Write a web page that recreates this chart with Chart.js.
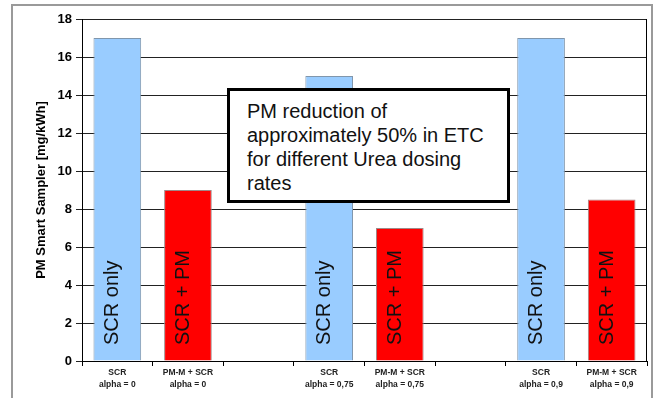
<!DOCTYPE html>
<html><head><meta charset="utf-8">
<script src="https://cdn.jsdelivr.net/npm/chart.js@4"></script>
<style>
html,body{margin:0;padding:0;background:#fff;}
#wrap{position:relative;width:656px;height:398px;overflow:hidden;}
#c{position:absolute;left:0;top:0;}
#frame{position:absolute;left:11px;top:4px;width:642px;height:420px;border:2px solid #9a9a9a;box-sizing:border-box;pointer-events:none;}
#note{position:absolute;left:227px;top:88px;width:283px;height:115px;border:3px solid #000;box-sizing:border-box;background:#fff;
 font-family:"Liberation Sans",Arial,sans-serif;font-size:20px;line-height:24px;padding:8px 0 0 17px;color:#111;white-space:nowrap;}
</style></head>
<body>
<div id="wrap">
<canvas id="c" width="656" height="398"></canvas>
<div id="frame"></div>
<div id="note"></div>
</div>
<script>
const categories = [
  ['SCR','alpha = 0'], ['PM-M + SCR','alpha = 0'], '',
  ['SCR','alpha = 0,75'], ['PM-M + SCR','alpha = 0,75'], '',
  ['SCR','alpha = 0,9'], ['PM-M + SCR','alpha = 0,9']
];
const scrOnly = [17, null, null, 15, null, null, 17, null];
const scrPm   = [null, 9, null, null, 7, null, null, 8.5];
const seriesNames = ['SCR only', 'SCR + PM'];
const yMin = 0, yMax = 18, yStep = 2;
const yTitle = 'PM Smart Sampler [mg/kWh]';
const noteLines = ['PM reduction of', 'approximately 50% in ETC', 'for different Urea dosing', 'rates'];

document.getElementById('note').innerHTML = noteLines.join('<br>');

const FONT = '"Liberation Sans", Arial, sans-serif';

const innerLabels = {
  id: 'innerLabels',
  afterDatasetsDraw(chart) {
    const ctx = chart.ctx;
    const base = chart.scales.y.getPixelForValue(0);
    chart.data.datasets.forEach((ds, i) => {
      const meta = chart.getDatasetMeta(i);
      meta.data.forEach((bar, j) => {
        if (ds.data[j] == null) return;
        ctx.save();
        ctx.translate(bar.x + 1, base - 16);
        ctx.rotate(-Math.PI / 2);
        ctx.font = '20px ' + FONT;
        ctx.fillStyle = '#111';
        ctx.textAlign = 'left';
        ctx.textBaseline = 'alphabetic';
        ctx.fillText(ds.label, 0, 0);
        ctx.restore();
      });
    });
    const a = chart.chartArea;
    ctx.save();
    ctx.strokeStyle = '#000';
    ctx.lineWidth = 1;
    ctx.beginPath();
    ctx.moveTo(Math.round(a.right) - 0.5, a.top);
    ctx.lineTo(Math.round(a.right) - 0.5, a.bottom);
    ctx.stroke();
    ctx.restore();
  }
};

new Chart(document.getElementById('c'), {
  type: 'bar',
  data: {
    labels: categories,
    datasets: [
      { label: seriesNames[0], data: scrOnly, backgroundColor: '#99CCFF', borderColor: '#8096ac', borderWidth: 1 },
      { label: seriesNames[1], data: scrPm, backgroundColor: '#FF0000', borderColor: '#a08888', borderWidth: 1 }
    ]
  },
  options: {
    responsive: false,
    animation: false,
    devicePixelRatio: 1,
    grouped: false,
    categoryPercentage: 1,
    barPercentage: 0.675,
    layout: { padding: { left: 0, top: 19, right: 9, bottom: 0 } },
    plugins: { legend: { display: false }, tooltip: { enabled: false } },
    scales: {
      x: {
        grid: { display: true, drawOnChartArea: false, drawTicks: true, tickLength: 5, color: '#000' },
        border: { display: true, color: '#000', width: 1 },
        ticks: { color: '#222', padding: 1, maxRotation: 0, autoSkip: false,
                 font: { family: FONT, size: 8.5, weight: 'bold', lineHeight: '12px' } },
        afterFit(s) { s.height = 37; }
      },
      y: {
        min: yMin, max: yMax,
        grid: { color: '#222', lineWidth: 1, tickLength: 6, drawTicks: true },
        border: { display: true, color: '#000', width: 1 },
        ticks: { stepSize: yStep, padding: 4, color: '#000',
                 font: { family: FONT, size: 13, weight: 'bold' } },
        title: { display: true, text: yTitle, color: '#000', padding: { top: 34, bottom: 0 },
                 font: { family: FONT, size: 13, weight: 'bold' } },
        afterFit(s) { s.width = 82; }
      }
    }
  },
  plugins: [innerLabels]
});
</script>
</body></html>
